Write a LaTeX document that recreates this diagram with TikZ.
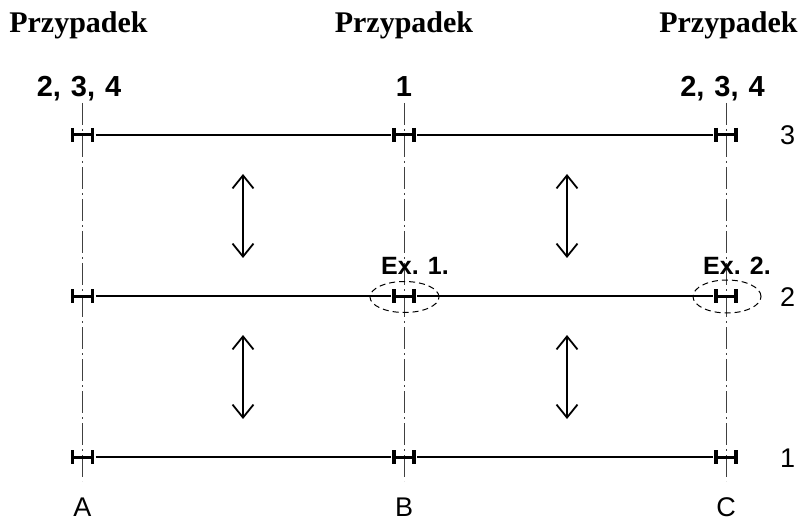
\documentclass[tikz,border=0pt]{standalone}
\usepackage{fontspec}
\setmainfont{Liberation Serif}
\newfontfamily\arialf{Liberation Sans}
\usetikzlibrary{arrows.meta}
\tikzset{
  axisline/.style={line width=1pt, black!75, dash pattern=on 22pt off 4pt on 2pt off 4pt},
  beam/.style={line width=2pt},
  htick/.style={line width=3.5pt},
  hbar/.style={line width=3pt},
  arr/.style={line width=1.8pt, {Straight Barb[length=13pt,width=21pt]}-{Straight Barb[length=13pt,width=21pt]}},
  ring/.style={line width=1pt, dash pattern=on 6pt off 4pt},
  txt/.style={inner sep=0pt, anchor=base},
  casetxt/.style={txt, font=\fontsize{30}{34}\selectfont\bfseries},
  numtxt/.style={txt, font=\arialf\fontsize{29}{32}\selectfont\bfseries},
  extxt/.style={txt, font=\arialf\fontsize{25}{28}\selectfont\bfseries},
  lbl/.style={txt, font=\arialf\fontsize{27}{30}\selectfont},
}
\newcommand\sepsp{\hspace{10pt}}
\begin{document}
\begin{tikzpicture}[x=1pt,y=-1pt]
\useasboundingbox (0,0) rectangle (800,521);
% columns and rows
\def\xA{82.5}\def\xB{404}\def\xC{726}
\def\yT{135}\def\yM{296}\def\yL{457}
% axes
\foreach \c/\x in {A/\xA,B/\xB,C/\xC}{
  \coordinate (top\c) at (\x,103);
  \coordinate (bot\c) at (\x,481);
  \draw[axisline] (top\c) -- (bot\c);
}
% bracket points
\foreach \r/\y in {3/\yT,2/\yM,1/\yL}{
  \foreach \c/\x in {A/\xA,B/\xB,C/\xC}{
    \coordinate (\c\r) at (\x,\y);
    \draw[hbar] ([xshift=-10pt]\c\r) -- ([xshift=10pt]\c\r);
    \draw[htick] ([shift={(-10,-7)}]\c\r) -- ([shift={(-10,7)}]\c\r);
    \draw[htick] ([shift={(10,-7)}]\c\r) -- ([shift={(10,7)}]\c\r);
  }
  \draw[beam] ([xshift=13pt]A\r) -- ([xshift=-13pt]B\r);
  \draw[beam] ([xshift=13pt]B\r) -- ([xshift=-13pt]C\r);
}
% arrows
\coordinate (u1) at (243,174); \coordinate (u2) at (243,258);
\coordinate (v1) at (567,174); \coordinate (v2) at (567,258);
\coordinate (w1) at (243,335); \coordinate (w2) at (243,419);
\coordinate (z1) at (567,335); \coordinate (z2) at (567,419);
\draw[arr] (u1) -- (u2);
\draw[arr] (v1) -- (v2);
\draw[arr] (w1) -- (w2);
\draw[arr] (z1) -- (z2);
% dashed rings
\draw[ring] (404.5,297) ellipse [x radius=34.5pt, y radius=15.5pt];
\draw[ring] (727,296.5) ellipse [x radius=34pt, y radius=16.5pt];
% texts
\node[casetxt] (p1) at (78.5,33) {Przypadek};
\node[casetxt] (p2) at (\xB,33) {Przypadek};
\node[casetxt] (p3) at (728.5,33) {Przypadek};
\node[numtxt] (n1) at (79,97) {2,\sepsp3,\sepsp4};
\node[numtxt] (n2) at (\xB,97) {1};
\node[numtxt] (n3) at (722.5,97) {2,\sepsp3,\sepsp4};
\node[extxt] (e1) at (415,275) {Ex. 1.};
\node[extxt] (e2) at (737,275) {Ex. 2.};
\node[lbl] (r3) at (787.5,145) {3};
\node[lbl] (r2) at (787.5,306) {2};
\node[lbl] (r1) at (787.5,467) {1};
\node[lbl] (la) at (\xA,516) {A};
\node[lbl] (lb) at (\xB,516) {B};
\node[lbl] (lc) at (\xC,516) {C};
\end{tikzpicture}
\end{document}
